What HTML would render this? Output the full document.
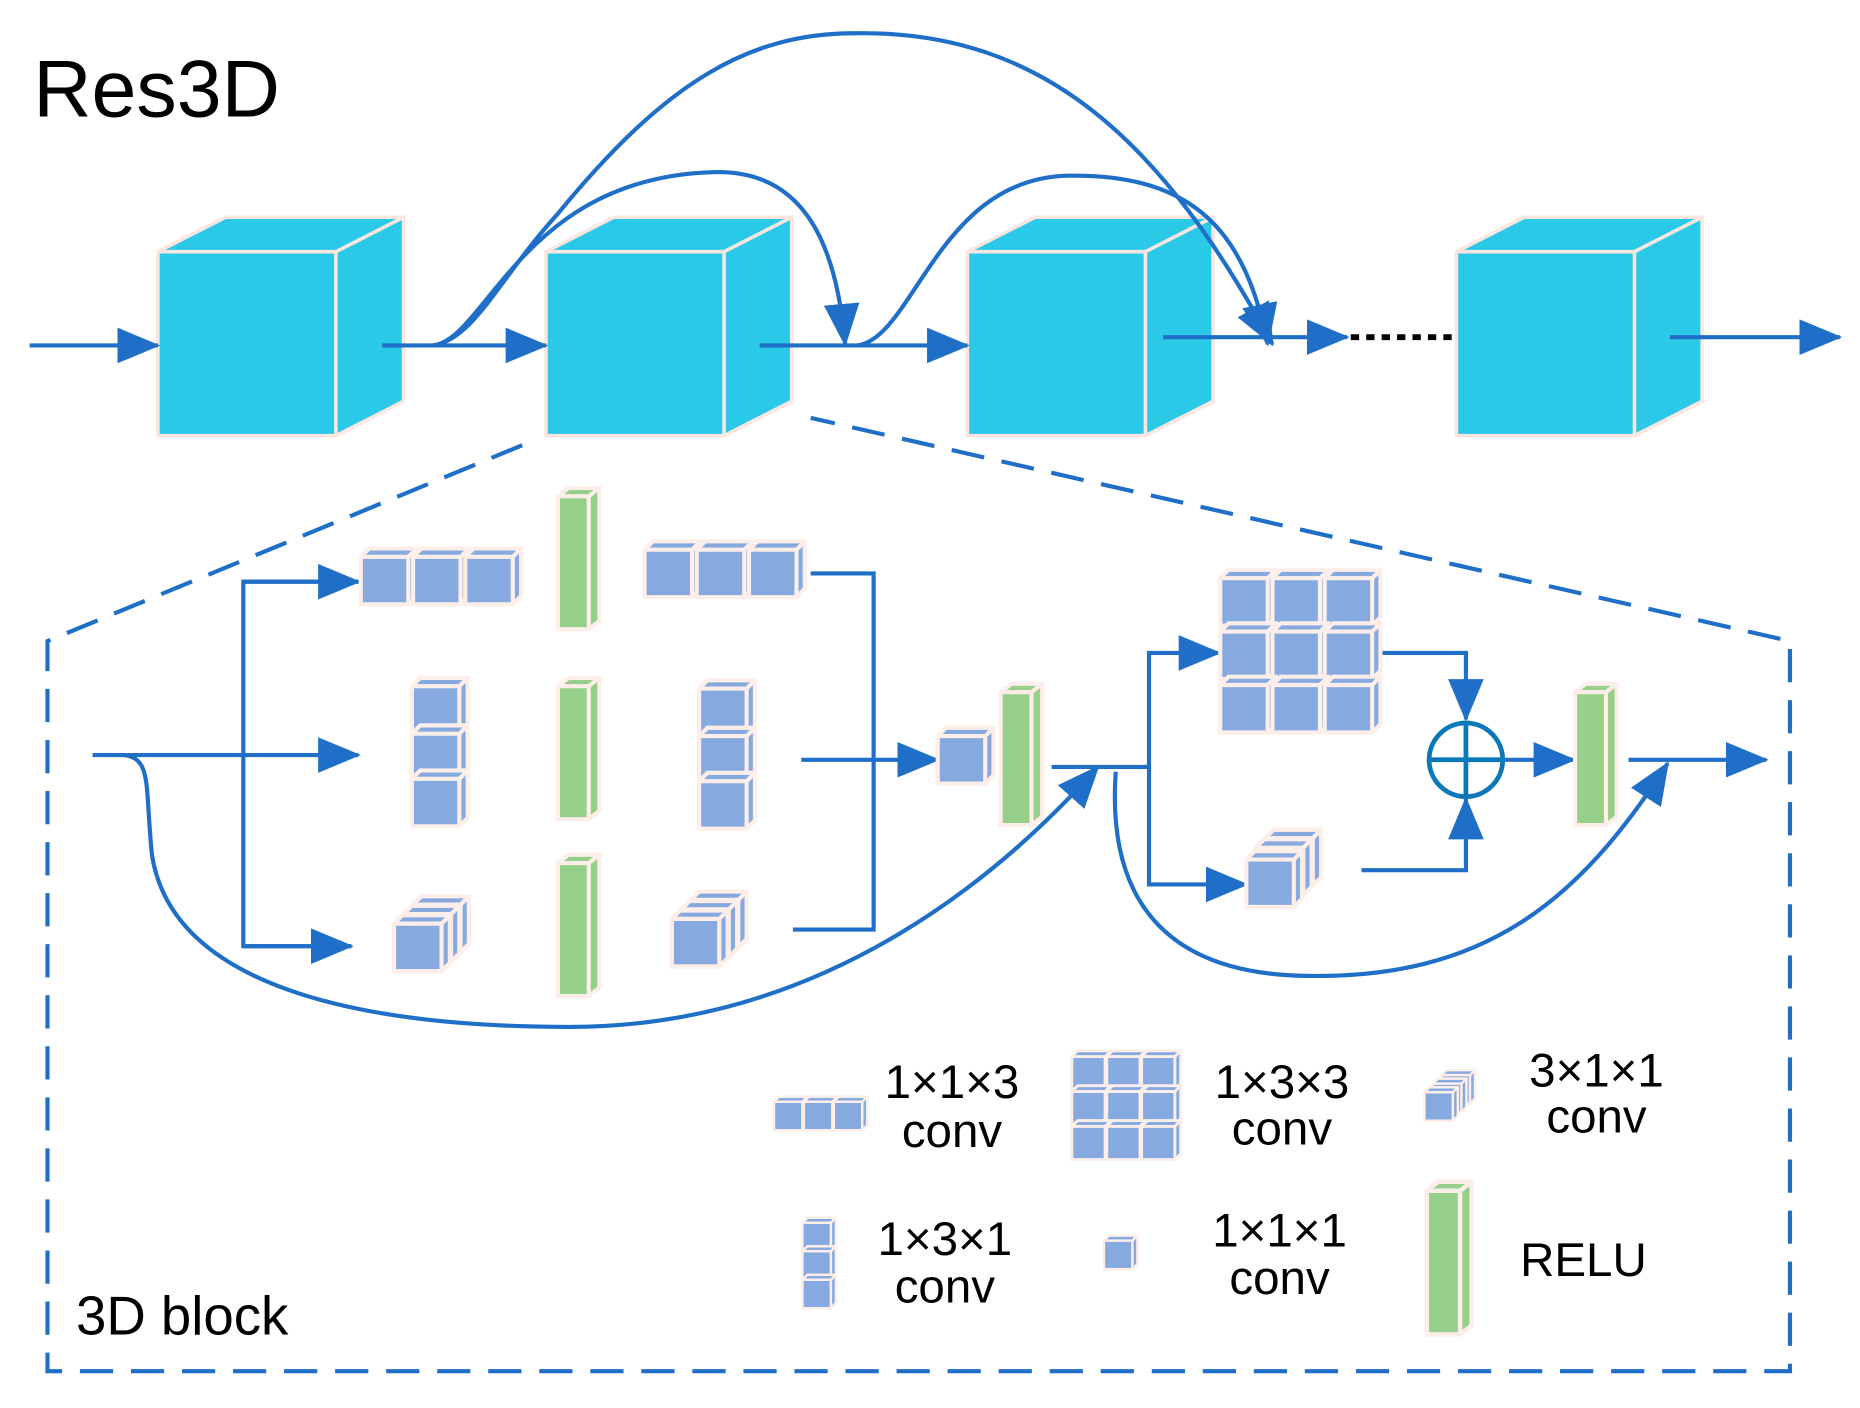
<!DOCTYPE html>
<html><head><meta charset="utf-8"><style>html,body{margin:0;padding:0;background:#fff}svg{display:block}</style></head>
<body>
<svg width="1860" height="1408" viewBox="0 0 1567 1186" preserveAspectRatio="none" xmlns="http://www.w3.org/2000/svg">
<defs>
<marker id="ah" markerUnits="userSpaceOnUse" markerWidth="40" markerHeight="32" refX="34" refY="15" orient="auto">
<path d="M0,0 L36,15 L0,30 Z" fill="#1F6FC8"/>
</marker>
<g id="bc"><rect x="0" y="29" width="150" height="155" fill="#2BC9E8"/><polygon points="0,29 57,0 207,0 150,29" fill="#2BC9E8"/><polygon points="150,29 207,0 207,155 150,184" fill="#2BC9E8"/>
<path d="M0,29 L57,0 L207,0 L207,155 L150,184 L0,184 Z M0,29 H150 L207,0 M150,29 V184" fill="none" stroke="#fde6df" stroke-width="3"/></g>
<g id="u"><path d="M0,0 L7,-7 H47 V33 L40,40 H0 Z" fill="#86AADF" stroke="#fdeee9" stroke-width="3.5"/><path d="M0,0 H40 L47,-7 M40,0 V40" fill="none" stroke="#fdeee9" stroke-width="3.5"/></g>
<g id="g"><path d="M0,0 L9,-7 H35 V105 L26,112 H0 Z" fill="#95CF8A" stroke="#fdeee9" stroke-width="3.5"/><path d="M0,0 H26 L35,-7 M26,0 V112" fill="none" stroke="#fdeee9" stroke-width="3.5"/></g>
</defs>
<g fill="none" stroke="#1F6FC8" stroke-width="3.5">
<path d="M440,375 L40,540 V1155 H1508 V540 L683,352" stroke-dasharray="28,15"/>
</g>
<use href="#bc" x="133" y="183"/>
<use href="#bc" x="460" y="183"/>
<use href="#bc" x="815" y="183"/>
<use href="#bc" x="1227" y="183"/>
<g fill="none" stroke="#1F6FC8" stroke-width="3.5">
<path d="M25,291 H133" marker-end="url(#ah)"/>
<path d="M322,291 H460" marker-end="url(#ah)"/>
<path d="M640,291 H815" marker-end="url(#ah)"/>
<path d="M980,284 H1135" marker-end="url(#ah)"/>
<path d="M1407,284 H1550" marker-end="url(#ah)"/>
<path d="M365,291 C410,285 440,150 600,145 C680,142 705,210 712,290" marker-end="url(#ah)"/>
<path d="M365,291 C400,285 420,235 470,180 C560,70 630,28 720,28 C880,25 980,120 1072,290" marker-end="url(#ah)"/>
<path d="M722,291 C770,285 790,150 900,148 C1010,146 1050,200 1068,290" marker-end="url(#ah)"/>
</g>
<path d="M1138,284 H1225" stroke="#000" stroke-width="5" stroke-dasharray="7,6"/>
<g fill="none" stroke="#1F6FC8" stroke-width="3.5">
<path d="M78,636 H302" marker-end="url(#ah)"/>
<path d="M302,490 H205 V797 H296" />
<path d="M205,490 H302" marker-end="url(#ah)"/>
<path d="M205,797 H296" marker-end="url(#ah)"/>
<path d="M683,483 H736 V783 H668"/>
<path d="M675,640 H790" marker-end="url(#ah)"/>
<path d="M105,636 C128,640 122,660 128,720 C145,830 300,865 480,865 C700,865 850,730 925,646" marker-end="url(#ah)"/>
<path d="M886,646 H968 V550 H1027" marker-end="url(#ah)"/>
<path d="M968,646 V745 H1050" marker-end="url(#ah)"/>
<path d="M1155,550 H1235 V606" marker-end="url(#ah)"/>
<path d="M1147,733 H1235 V673" marker-end="url(#ah)"/>
<path d="M1268,640 H1326" marker-end="url(#ah)"/>
<path d="M1372,640 H1488" marker-end="url(#ah)"/>
<path d="M940,650 C935,720 950,820 1100,822 C1250,825 1330,760 1405,643" marker-end="url(#ah)"/>
</g>
<circle cx="1235" cy="640" r="31" fill="none" stroke="#0A78B8" stroke-width="4"/>
<path d="M1204,640 H1266 M1235,609 V671" stroke="#0A78B8" stroke-width="4"/>
<use href="#u" x="304" y="469"/><use href="#u" x="348" y="469"/><use href="#u" x="392" y="469"/>
<use href="#u" x="543" y="463"/><use href="#u" x="587" y="463"/><use href="#u" x="631" y="463"/>
<use href="#u" x="347" y="578"/><use href="#u" x="347" y="618"/><use href="#u" x="347" y="656"/>
<use href="#u" x="589" y="580"/><use href="#u" x="589" y="620"/><use href="#u" x="589" y="658"/>
<use href="#u" x="348" y="762"/><use href="#u" x="340" y="770"/><use href="#u" x="332" y="778"/>
<use href="#u" x="582" y="758"/><use href="#u" x="574" y="766"/><use href="#u" x="566" y="774"/>
<use href="#g" x="470" y="418"/><use href="#g" x="470" y="578"/><use href="#g" x="470" y="727"/>
<use href="#u" x="790" y="620"/>
<use href="#g" x="843" y="583"/>
<use href="#g" x="1327" y="583"/>
<use href="#u" x="1028" y="487"/><use href="#u" x="1072" y="487"/><use href="#u" x="1116" y="487"/>
<use href="#u" x="1028" y="532"/><use href="#u" x="1072" y="532"/><use href="#u" x="1116" y="532"/>
<use href="#u" x="1028" y="577"/><use href="#u" x="1072" y="577"/><use href="#u" x="1116" y="577"/>
<use href="#u" x="1066" y="706"/><use href="#u" x="1058" y="714"/><use href="#u" x="1050" y="724"/>
<g transform="translate(652,928) scale(0.6)"><use href="#u" x="0" y="0"/><use href="#u" x="42" y="0"/><use href="#u" x="84" y="0"/></g>
<g transform="translate(903,890) scale(0.7)"><use href="#u" x="0" y="0"/><use href="#u" x="42" y="0"/><use href="#u" x="84" y="0"/><use href="#u" x="0" y="42"/><use href="#u" x="42" y="42"/><use href="#u" x="84" y="42"/><use href="#u" x="0" y="84"/><use href="#u" x="42" y="84"/><use href="#u" x="84" y="84"/></g>
<g transform="translate(1200,920) scale(0.6)"><use href="#u" x="24" y="-24"/><use href="#u" x="12" y="-12"/><use href="#u" x="0" y="0"/></g>
<g transform="translate(676,1030) scale(0.6)"><use href="#u" x="0" y="0"/><use href="#u" x="0" y="40"/><use href="#u" x="0" y="80"/></g>
<g transform="translate(930,1045) scale(0.6)"><use href="#u" x="0" y="0"/></g>
<g transform="translate(1202,1003) scale(1.08)"><use href="#g" x="0" y="0"/></g>
<g font-family="'Liberation Sans', sans-serif" fill="#000">
<text x="28" y="98" font-size="68">Res3D</text>
<text x="64" y="1124" font-size="46">3D block</text>
<g font-size="40" text-anchor="middle">
<text x="802" y="925">1×1×3</text><text x="802" y="966">conv</text>
<text x="1080" y="925">1×3×3</text><text x="1080" y="964">conv</text>
<text x="1345" y="915">3×1×1</text><text x="1345" y="954">conv</text>
<text x="796" y="1057">1×3×1</text><text x="796" y="1097">conv</text>
<text x="1078" y="1050">1×1×1</text><text x="1078" y="1090">conv</text>
<text x="1334" y="1075">RELU</text>
</g></g>
</svg>
</body></html>
